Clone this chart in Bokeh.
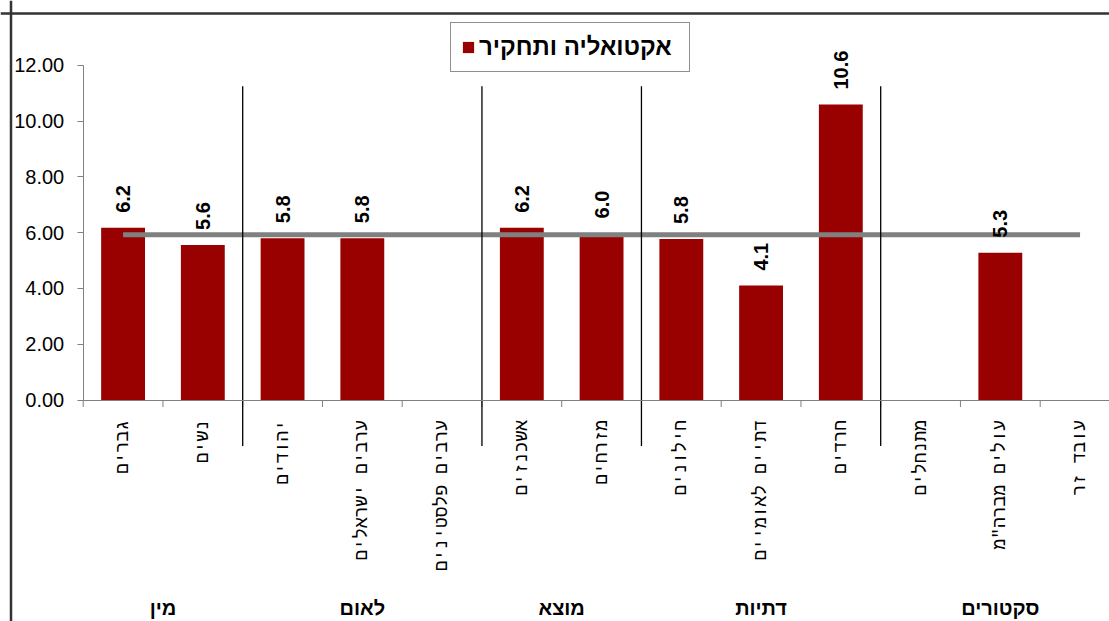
import math
from bokeh.plotting import figure
from bokeh.models import (Range1d, LinearAxis, FixedTicker, NumeralTickFormatter,
                          ColumnDataSource, Span, Legend, LegendItem)
from bokeh.core.properties import value
from bokeh.embed import file_html
from bokeh.resources import INLINE

# ---------------- data ----------------
categories = ["גברים", "נשים", "יהודים", "ערבים ישראלים", "ערבים פלסטינים",
              "אשכנזים", "מזרחים", "חילונים", "דתיים לאומיים", "חרדים",
              "מתנחלים", "עולים מברה\"מ", "עובד זר"]
values = [6.17, 5.56, 5.8, 5.8, None, 6.17, 5.97, 5.77, 4.1, 10.59, None, 5.28, None]
average = [5.92, 5.92, 5.92, 5.92, 5.92, 5.92, 5.92, 5.92, 5.92, 5.92, 5.92, 5.92, 5.92]
groups = ["מין", "לאום", "מוצא", "דתיות", "סקטורים"]
group_sizes = [2, 3, 2, 3, 3]
series_name = "אקטואליה ותחקיר"
y_ticks = [0, 2, 4, 6, 8, 10, 12]

# ---------------- layout geometry ----------------
W, H = 1109, 621
X0_PX, X_UNIT = 82.7, 79.75      # canvas px of category boundary 0, px per category
Y0_PX, Y_UNIT = 399.5, 27.9      # canvas px of value 0, px per unit

x_range = Range1d(-X0_PX / X_UNIT, (W - X0_PX) / X_UNIT)
y_range = Range1d(-(H - Y0_PX) / Y_UNIT, Y0_PX / Y_UNIT)

BAR_COLOR = "#990000"
AXIS_GRAY = "#808080"
SANS = "Liberation Sans"
MONO = "'Liberation Mono', 'DejaVu Sans Mono', monospace"

p = figure(width=W, height=H, x_range=x_range, y_range=y_range,
           x_axis_type=None, y_axis_type=None, toolbar_location=None,
           output_backend="svg", min_border=0, outline_line_color=None,
           background_fill_color="white", border_fill_color="white")

# bars
bx = [i + 0.5 for i, v in enumerate(values) if v is not None]
bt = [v for v in values if v is not None]
bar_src = ColumnDataSource(dict(x=bx, top=bt, label=[f"{v:.1f}" for v in bt]))
bars = p.vbar(x="x", top="top", bottom=0, width=0.55, source=bar_src,
              fill_color=BAR_COLOR, line_color=None)

# average line
p.line(x=[i + 0.5 for i in range(len(categories))], y=average,
       line_color=AXIS_GRAY, line_width=5)

# value labels
p.text(x="x", y="top", text="label", source=bar_src, angle=math.pi / 2,
       text_align="left", text_baseline="middle", y_offset=-15,
       text_font=value(SANS), text_font_size="20px", text_font_style="bold",
       text_color="black")

# category boundary tick marks on the x axis
edges = list(range(len(categories) + 1))
p.segment(x0=edges, y0=[0] * len(edges), x1=edges, y1=[-7 / Y_UNIT] * len(edges),
          line_color=AXIS_GRAY, line_width=1)

# group separators
bounds = []
acc = 0
for s in group_sizes[:-1]:
    acc += s
    bounds.append(acc)
p.segment(x0=bounds, y0=[-1.65] * len(bounds), x1=bounds, y1=[11.25] * len(bounds),
          line_color="black", line_width=1.3)

# group labels
gx = []
acc = 0
for s in group_sizes:
    gx.append(acc + s / 2)
    acc += s
p.text(x=gx, y=[-(607 - Y0_PX) / Y_UNIT] * len(gx), text=groups,
       text_align="center", text_baseline="middle",
       text_font=value(SANS), text_font_size="20px", text_font_style="bold",
       text_color="black")

# axes
yaxis = LinearAxis(fixed_location=0, bounds=(0, 12), ticker=FixedTicker(ticks=y_ticks),
                   formatter=NumeralTickFormatter(format="0.00"),
                   major_tick_out=6, major_tick_in=0, minor_tick_out=0, minor_tick_in=0,
                   major_label_standoff=13, axis_line_color=AXIS_GRAY,
                   major_tick_line_color=AXIS_GRAY,
                   major_label_text_font=SANS, major_label_text_font_size="20px",
                   major_label_text_color="black")
p.add_layout(yaxis, "left")

centers = [i + 0.5 for i in range(len(categories))]
xaxis = LinearAxis(fixed_location=0, bounds=(0, len(categories)),
                   ticker=FixedTicker(ticks=centers),
                   major_label_overrides={c: n for c, n in zip(centers, categories)},
                   major_label_orientation=math.pi / 2,
                   major_tick_out=0, major_tick_in=0, minor_tick_out=0, minor_tick_in=0,
                   axis_line_color=AXIS_GRAY, major_tick_line_color=None,
                   major_label_standoff=20,
                   major_label_text_font=MONO, major_label_text_font_size="18px",
                   major_label_text_color="black")
p.add_layout(xaxis, "below")

# chart border (left and top edges visible)
p.add_layout(Span(location=(10.5 - X0_PX) / X_UNIT, dimension="height",
                  line_color="#333333", line_width=2.5))
p.add_layout(Span(location=(Y0_PX - 13) / Y_UNIT, dimension="width",
                  line_color="#333333", line_width=2.5))

# legend
legend = Legend(items=[LegendItem(label=series_name, renderers=[bars])],
                location=(450, 549), padding=10, margin=0, label_width=200,
                glyph_width=14, glyph_height=14, label_standoff=4,
                border_line_color="#222222", border_line_width=1.5,
                background_fill_color="white", background_fill_alpha=1,
                label_text_font=SANS, label_text_font_size="24px",
                label_text_font_style="bold", label_text_color="black")
p.add_layout(legend)

open("out.html", "w").write(file_html(p, INLINE))
